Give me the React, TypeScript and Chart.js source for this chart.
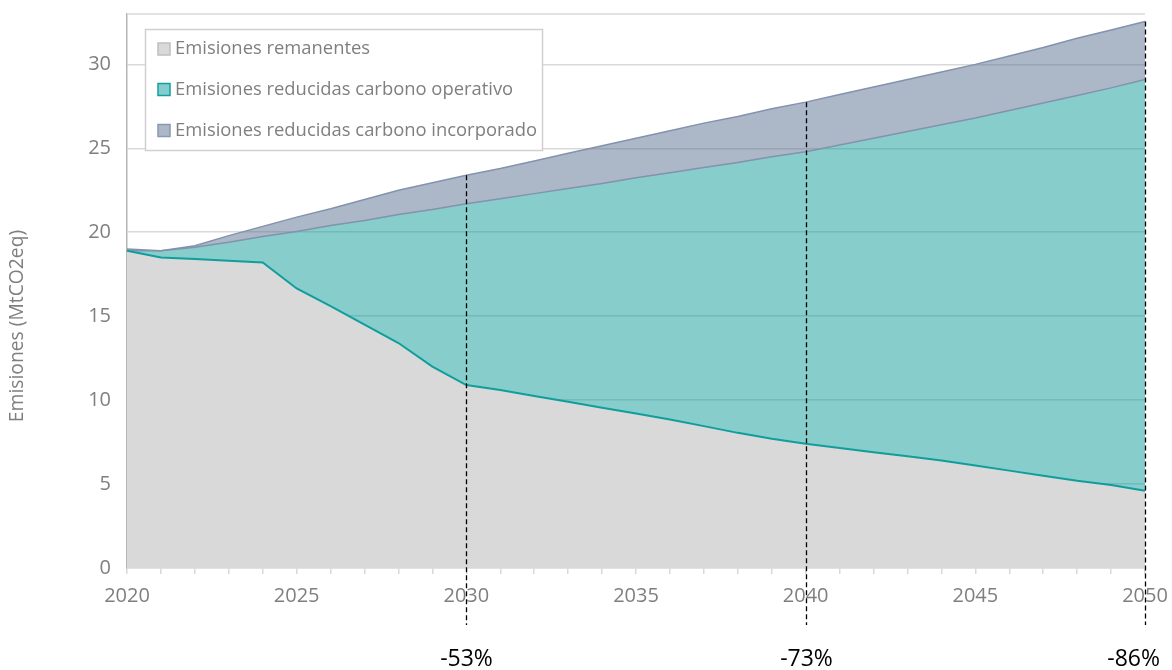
import React, { useEffect, useRef } from "react";
import { Chart, registerables } from "chart.js";

Chart.register(...registerables);

const years = [
  "2020", "2021", "2022", "2023", "2024", "2025", "2026", "2027", "2028", "2029",
  "2030", "2031", "2032", "2033", "2034", "2035", "2036", "2037", "2038", "2039",
  "2040", "2041", "2042", "2043", "2044", "2045", "2046", "2047", "2048", "2049",
  "2050",
];

const remanentes = [
  18.9, 18.5, 18.4, 18.3, 18.2, 16.65, 15.6, 14.5, 13.4, 12.0,
  10.9, 10.6, 10.25, 9.9, 9.55, 9.2, 8.85, 8.45, 8.05, 7.7,
  7.4, 7.15, 6.9, 6.65, 6.4, 6.1, 5.8, 5.5, 5.2, 4.95,
  4.6,
];

const reducidasOperativo = [
  0.0, 0.4, 0.7, 1.1, 1.55, 3.4, 4.8, 6.2, 7.65, 9.35,
  10.8, 11.4, 12.05, 12.7, 13.35, 14.05, 14.7, 15.4, 16.1, 16.8,
  17.4, 18.05, 18.7, 19.35, 20.0, 20.7, 21.45, 22.2, 22.95, 23.65,
  24.5,
];

const reducidasIncorporado = [
  0.1, 0.0, 0.1, 0.4, 0.6, 0.85, 1.0, 1.25, 1.45, 1.6,
  1.7, 1.8, 1.95, 2.1, 2.25, 2.35, 2.5, 2.65, 2.75, 2.85,
  2.95, 3.0, 3.05, 3.1, 3.15, 3.2, 3.25, 3.3, 3.4, 3.45,
  3.45,
];

const seriesLabels = [
  "Emisiones remanentes",
  "Emisiones reducidas carbono operativo",
  "Emisiones reducidas carbono incorporado",
];

const yTickValues = [0, 5, 10, 15, 20, 25, 30];
const xLabelYears = ["2020", "2025", "2030", "2035", "2040", "2045", "2050"];
const markerYears = ["2030", "2040", "2050"];
const markerLabels = ["-53%", "-73%", "-86%"];
const yAxisTitle = "Emisiones (MtCO2eq)";

const FONT = "'Open Sans', 'Noto Sans', sans-serif";
const GREY_TEXT = "#7F7F7F";
const GRID = "#D9D9D9";

const fills = ["#D9D9D9", "rgba(13,155,153,0.5)", "rgba(89,111,145,0.5)"];
const legendFills = ["#D9D9D9", "#85CDCC", "#ACB7C8"];
const legendBorders = ["#BFBFBF", "#12A09E", "#8A98B0"];

const overlayPlugin = {
  id: "overlay",
  beforeDatasetsDraw(chart: any) {
    const { ctx, chartArea } = chart;
    ctx.save();
    ctx.strokeStyle = GRID;
    ctx.lineWidth = 1.5;
    ctx.beginPath();
    ctx.moveTo(chartArea.left, chartArea.top);
    ctx.lineTo(chartArea.right, chartArea.top);
    ctx.stroke();
    ctx.restore();
  },
  afterDraw(chart: any) {
    const { ctx, chartArea, width } = chart;
    const xs = chart.scales.x;
    const ys = chart.scales.y;
    ctx.save();

    markerYears.forEach((yr, k) => {
      const i = years.indexOf(yr);
      const total = remanentes[i] + reducidasOperativo[i] + reducidasIncorporado[i];
      const x = Math.round(xs.getPixelForValue(i)) + 0.5;
      const yTop = ys.getPixelForValue(total);
      ctx.setLineDash([5, 3]);
      ctx.strokeStyle = "#000000";
      ctx.lineWidth = 1.3;
      ctx.beginPath();
      ctx.moveTo(x, yTop);
      ctx.lineTo(x, chartArea.bottom + 57);
      ctx.stroke();
      ctx.setLineDash([]);
      ctx.fillStyle = "#000000";
      ctx.font = `23px ${FONT}`;
      ctx.textAlign = "center";
      ctx.textBaseline = "middle";
      const tw = ctx.measureText(markerLabels[k]).width;
      const lx = Math.min(x, width - 12 - tw / 2);
      ctx.fillText(markerLabels[k], lx, chartArea.bottom + 91);
    });

    ctx.save();
    ctx.translate(18, 326);
    ctx.rotate(-Math.PI / 2);
    ctx.fillStyle = GREY_TEXT;
    ctx.font = `19.3px ${FONT}`;
    ctx.textAlign = "center";
    ctx.textBaseline = "middle";
    ctx.fillText(yAxisTitle, 0, 0);
    ctx.restore();

    const bx = 145, by = 29, bw = 397, bh = 121;
    ctx.fillStyle = "#FFFFFF";
    ctx.fillRect(bx, by, bw, bh);
    ctx.strokeStyle = "#D0D0D0";
    ctx.lineWidth = 1.5;
    ctx.strokeRect(bx + 0.5, by + 0.5, bw, bh);
    const rows = [49, 89.5, 130.5];
    seriesLabels.forEach((label, i) => {
      const cy = rows[i];
      ctx.fillStyle = legendFills[i];
      ctx.fillRect(158, cy - 6, 12, 12);
      ctx.strokeStyle = legendBorders[i];
      ctx.lineWidth = 1.5;
      ctx.strokeRect(158, cy - 6, 12, 12);
      ctx.fillStyle = GREY_TEXT;
      ctx.font = `18.4px ${FONT}`;
      ctx.textAlign = "left";
      ctx.textBaseline = "middle";
      ctx.fillText(label, 175, cy);
    });

    ctx.restore();
  },
};

export default function App() {
  const canvasRef = useRef<HTMLCanvasElement | null>(null);

  useEffect(() => {
    if (!canvasRef.current) return;
    const chart = new Chart(canvasRef.current, {
      type: "line",
      data: {
        labels: years,
        datasets: [
          {
            label: seriesLabels[0],
            data: remanentes,
            backgroundColor: fills[0],
            borderColor: "#109E9C",
            borderWidth: 2,
            fill: "origin",
            pointRadius: 0,
            tension: 0,
          },
          {
            label: seriesLabels[1],
            data: reducidasOperativo,
            backgroundColor: fills[1],
            borderColor: "#8393AE",
            borderWidth: 1.5,
            fill: "-1",
            pointRadius: 0,
            tension: 0,
          },
          {
            label: seriesLabels[2],
            data: reducidasIncorporado,
            backgroundColor: fills[2],
            borderColor: "#8393AE",
            borderWidth: 1.5,
            fill: "-1",
            pointRadius: 0,
            tension: 0,
          },
        ],
      },
      options: {
        animation: false,
        responsive: true,
        maintainAspectRatio: false,
        layout: { padding: { top: 14, right: 27, left: 0, bottom: 0 } },
        plugins: {
          legend: { display: false },
          tooltip: { enabled: false },
          title: { display: false },
        },
        scales: {
          x: {
            type: "category",
            offset: false,
            grid: {
              display: true,
              drawOnChartArea: false,
              drawTicks: true,
              tickLength: 6,
              color: GRID,
              lineWidth: 1.5,
            },
            border: { display: true, color: GRID, width: 1.5 },
            ticks: {
              autoSkip: false,
              maxRotation: 0,
              padding: 10,
              color: GREY_TEXT,
              font: { family: FONT, size: 20 },
              callback: (_v: any, i: number) =>
                xLabelYears.includes(years[i]) ? years[i] : "",
            },
            afterFit: (s: any) => {
              s.height = 102;
              s.paddingLeft = 0;
              s.paddingRight = 0;
            },
          },
          y: {
            type: "linear",
            stacked: true,
            min: 0,
            max: 33,
            grid: { color: GRID, lineWidth: 1.5, drawTicks: false },
            border: { display: true, color: "#B5B5B5", width: 1.5 },
            ticks: {
              padding: 16,
              color: GREY_TEXT,
              font: { family: FONT, size: 20 },
            },
            afterBuildTicks: (s: any) => {
              s.ticks = yTickValues.map((v) => ({ value: v }));
            },
            afterFit: (s: any) => {
              s.width = 127;
              s.paddingTop = 0;
              s.paddingBottom = 0;
            },
          },
        },
      },
      plugins: [overlayPlugin],
    });
    return () => chart.destroy();
  }, []);

  return (
    <div style={{ position: "fixed", left: 0, top: 0, width: 1172, height: 670, background: "#FFFFFF" }}>
      <canvas ref={canvasRef} />
    </div>
  );
}
